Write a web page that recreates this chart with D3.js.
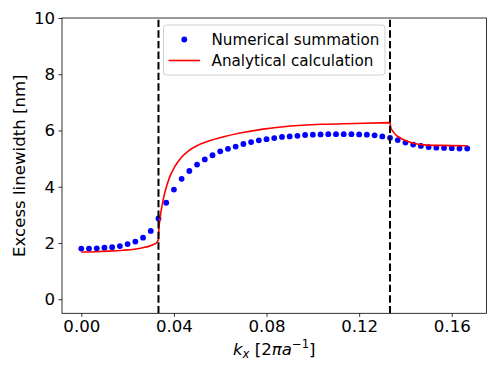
<!DOCTYPE html>
<html>
<head>
<meta charset="utf-8">
<script src="https://cdn.jsdelivr.net/npm/d3@7"></script>
<style>
  html, body { margin: 0; padding: 0; background: #fff; }
  svg { display: block; font-family: "DejaVu Sans", sans-serif; }
</style>
</head>
<body>
<svg id="chart" width="498" height="374"></svg>
<script>
// ---- data ----
const kStep = 1 / 300;
const numericalValues = [
  1.80, 1.80, 1.81, 1.83, 1.85, 1.89, 1.96, 2.05, 2.19, 2.43,
  2.87, 3.43, 3.90, 4.28, 4.56, 4.79, 4.97, 5.12, 5.26, 5.35,
  5.43, 5.52, 5.59, 5.65, 5.69, 5.73, 5.77, 5.79, 5.81, 5.84,
  5.85, 5.86, 5.87, 5.87, 5.87, 5.87, 5.86, 5.85, 5.83, 5.79,
  5.74, 5.66, 5.57, 5.50, 5.45, 5.41, 5.39, 5.38, 5.37, 5.36,
  5.36
];
const analyticalLow = [
  [0, 1.68], [0.006, 1.69], [0.012, 1.71], [0.018, 1.74], [0.023, 1.78],
  [0.027, 1.84], [0.029, 1.88], [0.031, 1.94], [0.0325, 2.01], [0.03333, 2.12]
];
const analyticalMid = [
  [0.03334, 2.2], [0.0335, 2.5], [0.0338, 2.75], [0.0342, 3.0], [0.0347, 3.25],
  [0.0361, 3.8], [0.0382, 4.35], [0.0404, 4.72], [0.0433, 5.05], [0.0462, 5.27],
  [0.0505, 5.48], [0.0563, 5.66], [0.062, 5.79], [0.0692, 5.92], [0.0778, 6.04],
  [0.0893, 6.15], [0.1037, 6.22], [0.1181, 6.25], [0.13333, 6.28]
];
const analyticalHigh = [
  [0.13334, 6.28], [0.1337, 6.10], [0.1346, 5.97], [0.1358, 5.85], [0.1375, 5.75],
  [0.1397, 5.65], [0.142, 5.58], [0.1445, 5.53], [0.148, 5.49], [0.155, 5.47],
  [0.16667, 5.46]
];
const boundaries = [1 / 30, 2 / 15];
const xTicks = [0.00, 0.04, 0.08, 0.12, 0.16];
const yTicks = [0, 2, 4, 6, 8, 10];
const legendLabels = ["Numerical summation", "Analytical calculation"];

// ---- layout ----
const L = 62, R = 486.5, T = 18, B = 313.3;
const svg = d3.select("#chart");
const x = d3.scaleLinear().domain([-1 / 120, 0.175]).range([L, R]);
const y = d3.scaleLinear().domain([-0.5, 10]).range([B, T]);

// axes
const xAxis = d3.axisBottom(x).tickValues(xTicks).tickFormat(d3.format(".2f")).tickSize(3.5).tickPadding(3.5);
const yAxis = d3.axisLeft(y).tickValues(yTicks).tickFormat(d3.format("d")).tickSize(3.5).tickPadding(3.5);

const gx = svg.append("g").attr("transform", `translate(0,${B})`).call(xAxis);
const gy = svg.append("g").attr("transform", `translate(${L},0)`).call(yAxis);
[gx, gy].forEach(g => {
  g.select(".domain").remove();
  g.selectAll("line").attr("stroke", "#000").attr("stroke-width", 0.8);
  g.selectAll("text").attr("fill", "#000").attr("font-size", "16.6px").attr("font-family", "DejaVu Sans");
});

// data clip
svg.append("clipPath").attr("id", "clip").append("rect")
  .attr("x", L).attr("y", T).attr("width", R - L).attr("height", B - T);
const plot = svg.append("g").attr("clip-path", "url(#clip)");

// numerical dots
const pts = numericalValues.map((v, i) => [i * kStep, v]);
plot.selectAll("circle.num").data(pts).enter().append("circle")
  .attr("class", "num")
  .attr("cx", d => x(d[0])).attr("cy", d => y(d[1]))
  .attr("r", 2.9).attr("fill", "#0000ff");

// analytical curve
const line = d3.line().x(d => x(d[0])).y(d => y(d[1])).curve(d3.curveMonotoneX);
const segs = [analyticalLow, analyticalMid, analyticalHigh];
const dPath = segs.map((s, i) => {
  const p = line(s);
  return i === 0 ? p : "L" + p.slice(1);
}).join("");
plot.append("path").attr("d", dPath).attr("fill", "none")
  .attr("stroke", "#ff0000").attr("stroke-width", 1.6).attr("stroke-linejoin", "round");

// boundary dashed lines (drawn bottom to top)
boundaries.forEach(b => {
  plot.append("line")
    .attr("x1", x(b)).attr("x2", x(b)).attr("y1", B).attr("y2", T)
    .attr("stroke", "#000").attr("stroke-width", 2).attr("stroke-dasharray", "7.4,3.2");
});

// frame
svg.append("rect").attr("x", L).attr("y", T).attr("width", R - L).attr("height", B - T)
  .attr("fill", "none").attr("stroke", "#000").attr("stroke-width", 0.8);

// legend
const lg = svg.append("g");
lg.append("rect").attr("x", 163.5).attr("y", 25).attr("width", 221.5).attr("height", 50)
  .attr("rx", 3).attr("fill", "#fff").attr("fill-opacity", 0.8)
  .attr("stroke", "#d0d0d0").attr("stroke-width", 1);
lg.append("circle").attr("cx", 184.3).attr("cy", 39.5).attr("r", 2.9).attr("fill", "#0000ff");
lg.append("line").attr("x1", 168.5).attr("x2", 200).attr("y1", 60.5).attr("y2", 60.5)
  .attr("stroke", "#ff0000").attr("stroke-width", 1.6);
legendLabels.forEach((t, i) => {
  lg.append("text").attr("x", 211.5).attr("y", 44.5 + i * 21.5)
    .attr("font-size", "15.2px").attr("fill", "#000").text(t);
});

// axis labels
svg.append("text")
  .attr("transform", `translate(25,${(T + B) / 2}) rotate(-90)`)
  .attr("text-anchor", "middle").attr("font-size", "16.6px").attr("fill", "#000")
  .text("Excess linewidth [nm]");

const xl = svg.append("text").attr("x", (L + R) / 2).attr("y", 355)
  .attr("text-anchor", "middle").attr("font-size", "16.6px").attr("fill", "#000");
xl.append("tspan").attr("font-style", "italic").text("k");
xl.append("tspan").attr("font-style", "italic").attr("font-size", "11.6px").attr("dy", 3).text("x");
xl.append("tspan").attr("dy", -3).text(" [2");
xl.append("tspan").attr("font-style", "italic").text("πa");
xl.append("tspan").attr("font-size", "11.6px").attr("dy", -7).text("−1");
xl.append("tspan").attr("dy", 7).text("]");
</script>
</body>
</html>
